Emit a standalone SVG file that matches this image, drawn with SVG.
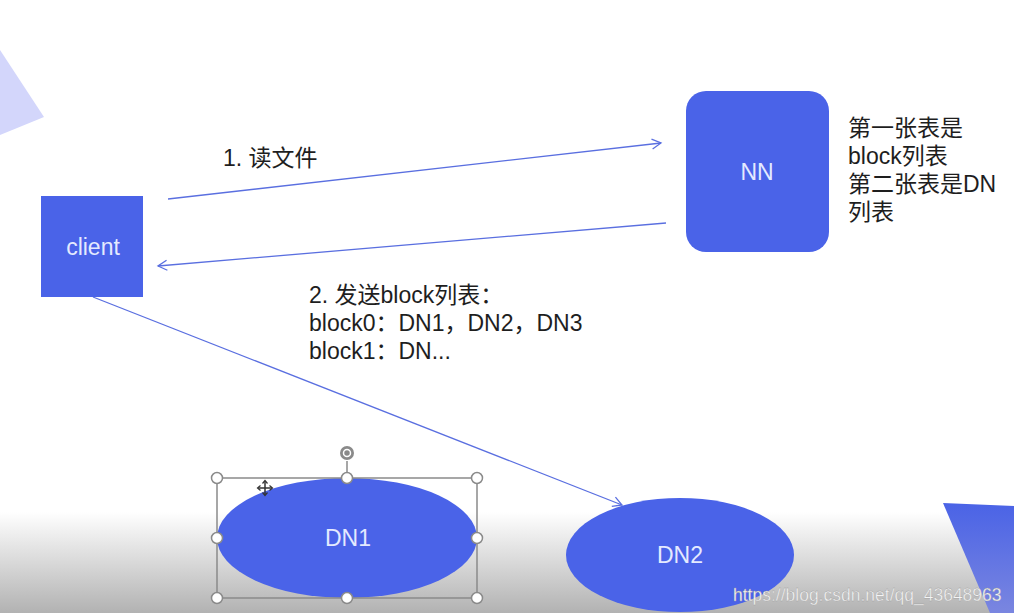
<svg xmlns="http://www.w3.org/2000/svg" width="1014" height="613" viewBox="0 0 1014 613">
<defs>
<linearGradient id="floor" x1="0" y1="0" x2="0" y2="1">
<stop offset="0" stop-color="#ffffff"/>
<stop offset="1" stop-color="#b2b2b2"/>
</linearGradient>
<linearGradient id="tri" x1="0" y1="0" x2="0" y2="1">
<stop offset="0" stop-color="#4a63e6"/>
<stop offset="1" stop-color="#7a86e0"/>
</linearGradient>
<marker id="arr" markerWidth="12" markerHeight="12" refX="10" refY="6" orient="auto" markerUnits="userSpaceOnUse">
<path d="M1,1 L10,6 L1,11" fill="none" stroke="#5a6fe0" stroke-width="1.3"/>
</marker>
<style>
.node{fill:#4a63e8;}
.lbl{font-family:"Liberation Sans","Noto Sans CJK SC",sans-serif;font-size:23px;fill:#e4eaff;text-anchor:middle;dominant-baseline:central;}
.txt{font-family:"Liberation Sans","Noto Sans CJK SC",sans-serif;font-size:23px;fill:#1e1e1e;}
.conn{stroke:#5a6fe0;stroke-width:1.3;fill:none;}
.sel{fill:none;stroke:#8a8a8a;stroke-width:1.5;}
.hdl{fill:#ffffff;stroke:#8a8a8a;stroke-width:1.5;}
</style>
</defs>
<rect x="0" y="0" width="1014" height="613" fill="#ffffff"/>
<rect x="0" y="512" width="1014" height="101" fill="url(#floor)"/>
<polygon points="0,50 44,117 0,135" fill="#d3d6fb"/>
<polygon points="943,503 1014,506 1014,613 990,613" fill="url(#tri)"/>
<g id="connectors">
<line class="conn" x1="168" y1="199" x2="661" y2="143" marker-end="url(#arr)"/>
<line class="conn" x1="666" y1="223" x2="158" y2="266" marker-end="url(#arr)"/>
<line class="conn" x1="93" y1="297" x2="622" y2="505" marker-end="url(#arr)"/>
</g>
<g id="client">
<rect class="node" x="41" y="196" width="102" height="101"/>
<text class="lbl" x="93" y="247">client</text>
</g>
<g id="NN">
<rect class="node" x="686" y="91" width="143" height="161" rx="20" ry="20"/>
<text class="lbl" x="757" y="172">NN</text>
</g>
<g id="DN1">
<ellipse class="node" cx="347" cy="538" rx="130" ry="60"/>
<text class="lbl" x="348" y="538">DN1</text>
<rect class="sel" x="217" y="478" width="260" height="120"/>
<line class="sel" x1="347" y1="461" x2="347" y2="478"/>
<circle cx="347" cy="453" r="7" fill="#8a8a8a"/>
<circle cx="347" cy="453" r="3.5" fill="none" stroke="#ffffff" stroke-width="1.5"/>
<circle class="hdl" cx="217" cy="478" r="5.5"/>
<circle class="hdl" cx="347" cy="478" r="5.5"/>
<circle class="hdl" cx="477" cy="478" r="5.5"/>
<circle class="hdl" cx="217" cy="538" r="5.5"/>
<circle class="hdl" cx="477" cy="538" r="5.5"/>
<circle class="hdl" cx="217" cy="598" r="5.5"/>
<circle class="hdl" cx="347" cy="598" r="5.5"/>
<circle class="hdl" cx="477" cy="598" r="5.5"/>
<path d="M265,481 v14 M258,488 h14" stroke="#333" stroke-width="1.5"/>
<path d="M262.5,483.5 L265,480.5 L267.5,483.5 M262.5,492.5 L265,495.5 L267.5,492.5 M260.5,485.5 L257.5,488 L260.5,490.5 M269.5,485.5 L272.5,488 L269.5,490.5" fill="none" stroke="#333" stroke-width="1.2"/>
</g>
<g id="DN2">
<ellipse class="node" cx="680" cy="555" rx="114" ry="57"/>
<text class="lbl" x="680" y="555">DN2</text>
</g>
<text class="txt" x="223" y="166">1. 读文件</text>
<text class="txt" x="309" y="303">2. 发送block列表：</text>
<text class="txt" x="309" y="331">block0：DN1，DN2，DN3</text>
<text class="txt" x="309" y="359">block1：DN...</text>
<text class="txt" x="848" y="136">第一张表是</text>
<text class="txt" x="848" y="164">block列表</text>
<text class="txt" x="848" y="192">第二张表是DN</text>
<text class="txt" x="848" y="220">列表</text>
<text x="733" y="601" font-family="Liberation Sans,sans-serif" font-size="17.5" fill="#f4f4f4" stroke="#9a9a9a" stroke-width="0.3">https://blog.csdn.net/qq_43648963</text>
</svg>
